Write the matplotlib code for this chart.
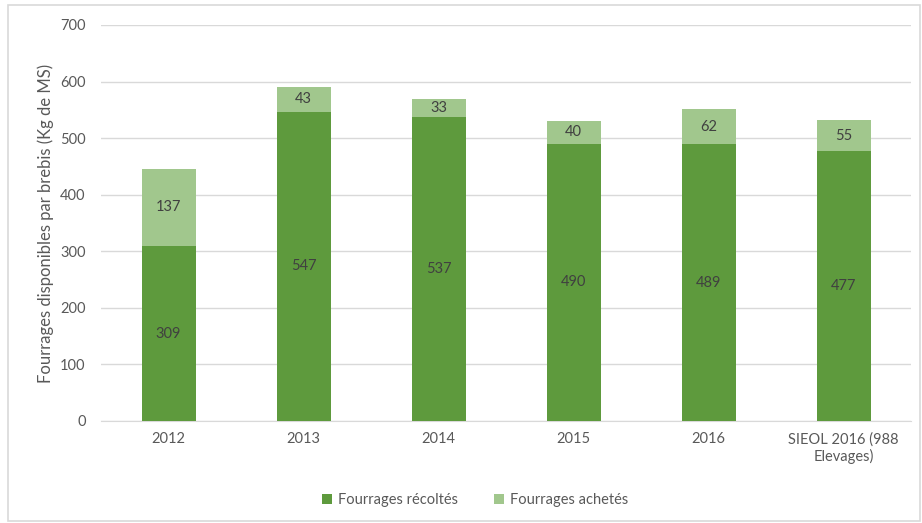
import matplotlib.pyplot as plt
from matplotlib.patches import Rectangle

plt.rcParams['font.family'] = ['Lato', 'DejaVu Sans']

categories = ['2012', '2013', '2014', '2015', '2016', 'SIEOL 2016 (988\nElevages)']
recoltes = [309, 547, 537, 490, 489, 477]
achetes = [137, 43, 33, 40, 62, 55]

dark_green = '#5E9A3D'
light_green = '#A1C78D'
text_gray = '#595959'

fig = plt.figure(figsize=(9.22, 5.23), dpi=100)
fig.patches.append(Rectangle((8 / 922, 2 / 523), 912 / 922, 516 / 523,
                             transform=fig.transFigure, fill=False,
                             edgecolor='#D9D9D9', linewidth=1.2))
ax = fig.add_axes([101 / 922, 1 - 421 / 523, 810 / 922, 396 / 523])

x = range(len(categories))
b1 = ax.bar(x, recoltes, width=0.4, color=dark_green, label='Fourrages récoltés', zorder=3)
b2 = ax.bar(x, achetes, width=0.4, bottom=recoltes, color=light_green,
            label='Fourrages achetés', zorder=3)

for i in x:
    ax.text(i, recoltes[i] / 2, str(recoltes[i]), ha='center', va='center',
            fontsize=10.5, color='#404040', zorder=4)
    ax.text(i, recoltes[i] + achetes[i] / 2, str(achetes[i]), ha='center', va='center',
            fontsize=10.5, color='#404040', zorder=4)

ax.set_xlim(-0.5, len(categories) - 0.5)
ax.set_ylim(0, 700)
ax.set_yticks(range(0, 701, 100))
ax.set_xticks(list(x))
ax.set_xticklabels(categories)
ax.yaxis.grid(True, color='#D9D9D9', linewidth=1, zorder=0)
ax.tick_params(axis='both', length=0, labelsize=10.5, labelcolor=text_gray)
ax.tick_params(axis='y', pad=11)
ax.tick_params(axis='x', pad=8)
for s in ['top', 'right', 'left']:
    ax.spines[s].set_visible(False)
ax.spines['bottom'].set_color('#D9D9D9')

ax.set_ylabel('Fourrages disponibles par brebis (Kg de MS)', fontsize=12,
              color=text_gray)
ax.yaxis.set_label_coords(-0.058, 0.5)

fig.legend(handles=[b1, b2], loc='center', bbox_to_anchor=(475 / 922, 1 - 500 / 523),
           ncol=2, frameon=False, fontsize=10.5, labelcolor=text_gray,
           handlelength=0.7, handleheight=0.7, handletextpad=0.4, columnspacing=2.5)

fig.savefig('out.png', dpi=100)
